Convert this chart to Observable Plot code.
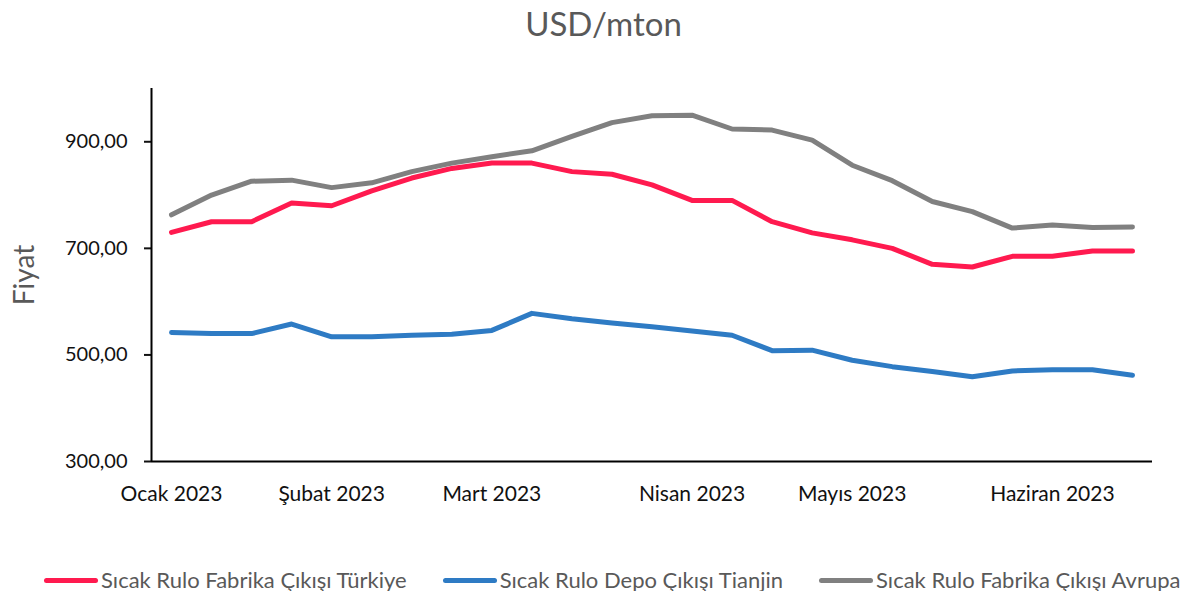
<!DOCTYPE html>
<html><head><meta charset="utf-8">
<script src="https://cdn.jsdelivr.net/npm/d3@7"></script>
<script src="https://cdn.jsdelivr.net/npm/@observablehq/plot@0.6"></script>
<style>
body{margin:0;background:#fff;font-family:Lato, sans-serif;width:1185px;}
#title{height:60px;text-align:center;font-size:33px;color:#595959;line-height:46px;padding-left:22px;box-sizing:border-box;}
#chart svg{display:block;}
#legend{display:flex;justify-content:flex-start;margin-top:58px;padding-left:44px;gap:36px;font-size:22px;color:#595959;line-height:22px;}
.item{display:flex;align-items:center;white-space:nowrap;}
.sw{width:54px;height:5px;border-radius:3px;margin-right:3px;}
</style></head><body>
<div id="title">USD/mton</div>
<div id="chart"></div>
<div id="legend"></div>
<script>
const seriesNames = ["Sıcak Rulo Fabrika Çıkışı Türkiye", "Sıcak Rulo Depo Çıkışı Tianjin", "Sıcak Rulo Fabrika Çıkışı Avrupa"];
const seriesColors = ["#ff1a4f", "#2e7bc4", "#808080"];
const turkiye = [730,750,750,785,780,808,832,850,860,860,844,839,819,790,790,750,729,716,700,670,665,685,685,695,695];
const tianjin = [542,540,540,558,534,534,537,539,546,578,568,560,553,545,537,508,509,490,478,469,459,470,472,472,462];
const avrupa  = [763,800,826,828,814,823,844,860,872,883,910,936,949,950,924,922,903,856,827,788,769,738,744,739,740];
const tickIndex = [0, 4, 8, 13, 17, 22];
const tickLabels = ["Ocak 2023", "Şubat 2023", "Mart 2023", "Nisan 2023", "Mayıs 2023", "Haziran 2023"];
const yTicks = [300, 500, 700, 900];

const all = [turkiye, tianjin, avrupa];
const data = [];
all.forEach((arr, k) => arr.forEach((v, i) => data.push({i, v, s: seriesNames[k]})));

const chart = Plot.plot({
  width: 1185, height: 451,
  marginLeft: 151, marginRight: 33, marginTop: 28, marginBottom: 50,
  style: {fontFamily: "Lato, sans-serif", fontSize: "20px", color: "#111", background: "#fff"},
  x: {type: "linear", domain: [-0.5, 24.5]},
  y: {domain: [300, 1000]},
  color: {domain: seriesNames, range: seriesColors},
  marks: [
    Plot.axisY({ticks: yTicks, tickSize: 7, tickPadding: 17, strokeWidth: 2, label: null,
      tickFormat: d => d.toFixed(2).replace(".", ","), fontSize: 20}),
    Plot.axisX({ticks: tickIndex, tickSize: 0, tickPadding: 25, label: null,
      tickFormat: d => tickLabels[tickIndex.indexOf(d)], fontSize: 21}),
    Plot.ruleY([300], {stroke: "#000", strokeWidth: 2}),
    Plot.ruleX([-0.5], {y1: 300, y2: 1000, stroke: "#000", strokeWidth: 2}),
    Plot.line(data, {x: "i", y: "v", z: "s", stroke: "s", strokeWidth: 5, strokeLinecap: "round", strokeLinejoin: "round"}),
    Plot.text(["Fiyat"], {frameAnchor: "left", dx: -126, rotate: -90, textAnchor: "middle", fontSize: 28, fill: "#595959"})
  ]
});
document.getElementById("chart").appendChild(chart);

const legend = document.getElementById("legend");
seriesNames.forEach((n, k) => {
  const it = document.createElement("div"); it.className = "item";
  const sw = document.createElement("div"); sw.className = "sw"; sw.style.background = seriesColors[k];
  const t = document.createElement("span"); t.textContent = n;
  it.appendChild(sw); it.appendChild(t); legend.appendChild(it);
});
</script>
</body></html>
